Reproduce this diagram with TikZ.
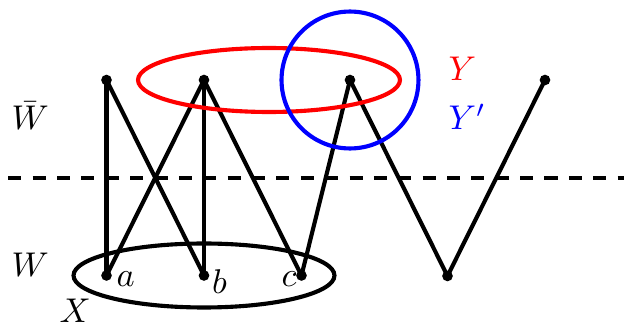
\documentclass[tikz,border=0pt]{standalone}
\begin{document}
\begin{tikzpicture}[x=0.010235cm,y=-0.010235cm,
  dot/.style={circle,fill=black,inner sep=0pt,minimum size=3.1pt},
  edge/.style={line width=1.2pt},
  lbl/.style={inner sep=0pt,anchor=base west}]
\useasboundingbox (0,0) rectangle (624,324);
% dashed separator
\coordinate (dl) at (8.3,178.3);
\coordinate (dr) at (630,178.3);
\draw[line width=1.2pt,dash pattern=on 3.8pt off 3.3pt] (dl) -- (dr);
% vertices
\node[dot] (t1) at (106.5,80) {};
\node[dot] (t2) at (204,80) {};
\node[dot] (t3) at (350,80) {};
\node[dot] (t4) at (545,80) {};
\node[dot] (b1) at (106.5,275.5) {};
\node[dot] (b2) at (204,275.5) {};
\node[dot] (b3) at (301.5,275.5) {};
\node[dot] (b4) at (447.5,276) {};
% edges
\draw[edge] (t1.center) -- (b1.center);
\draw[edge] (t1.center) -- (b2.center);
\draw[edge] (t2.center) -- (b1.center);
\draw[edge] (t2.center) -- (b2.center);
\draw[edge] (t2.center) -- (b3.center);
\draw[edge] (t3.center) -- (b3.center);
\draw[edge] (t3.center) -- (b4.center);
\draw[edge] (t4.center) -- (b4.center);
% sets
\draw[edge,red] (269,80) ellipse [x radius=1.341cm, y radius=0.3275cm];
\draw[edge,blue] (t3.center) circle [radius=0.701cm];
\draw[edge] (b2.center) ellipse [x radius=1.336cm, y radius=0.3275cm];
% labels
\node[lbl] (lWb) at (11,130) {$\bar{W}$};
\node[lbl] (lW) at (11,277) {$W$};
\node[lbl] (lX) at (59,323) {$X$};
\node[lbl] (la) at (116,287) {$a$};
\node[lbl] (lb) at (211.5,294) {$b$};
\node[lbl] (lc) at (281,287) {$c$};
\node[lbl,text=red] (lY) at (448,80) {$Y$};
\node[lbl,text=blue] (lYp) at (448,130) {$Y'$};
\end{tikzpicture}
\end{document}
